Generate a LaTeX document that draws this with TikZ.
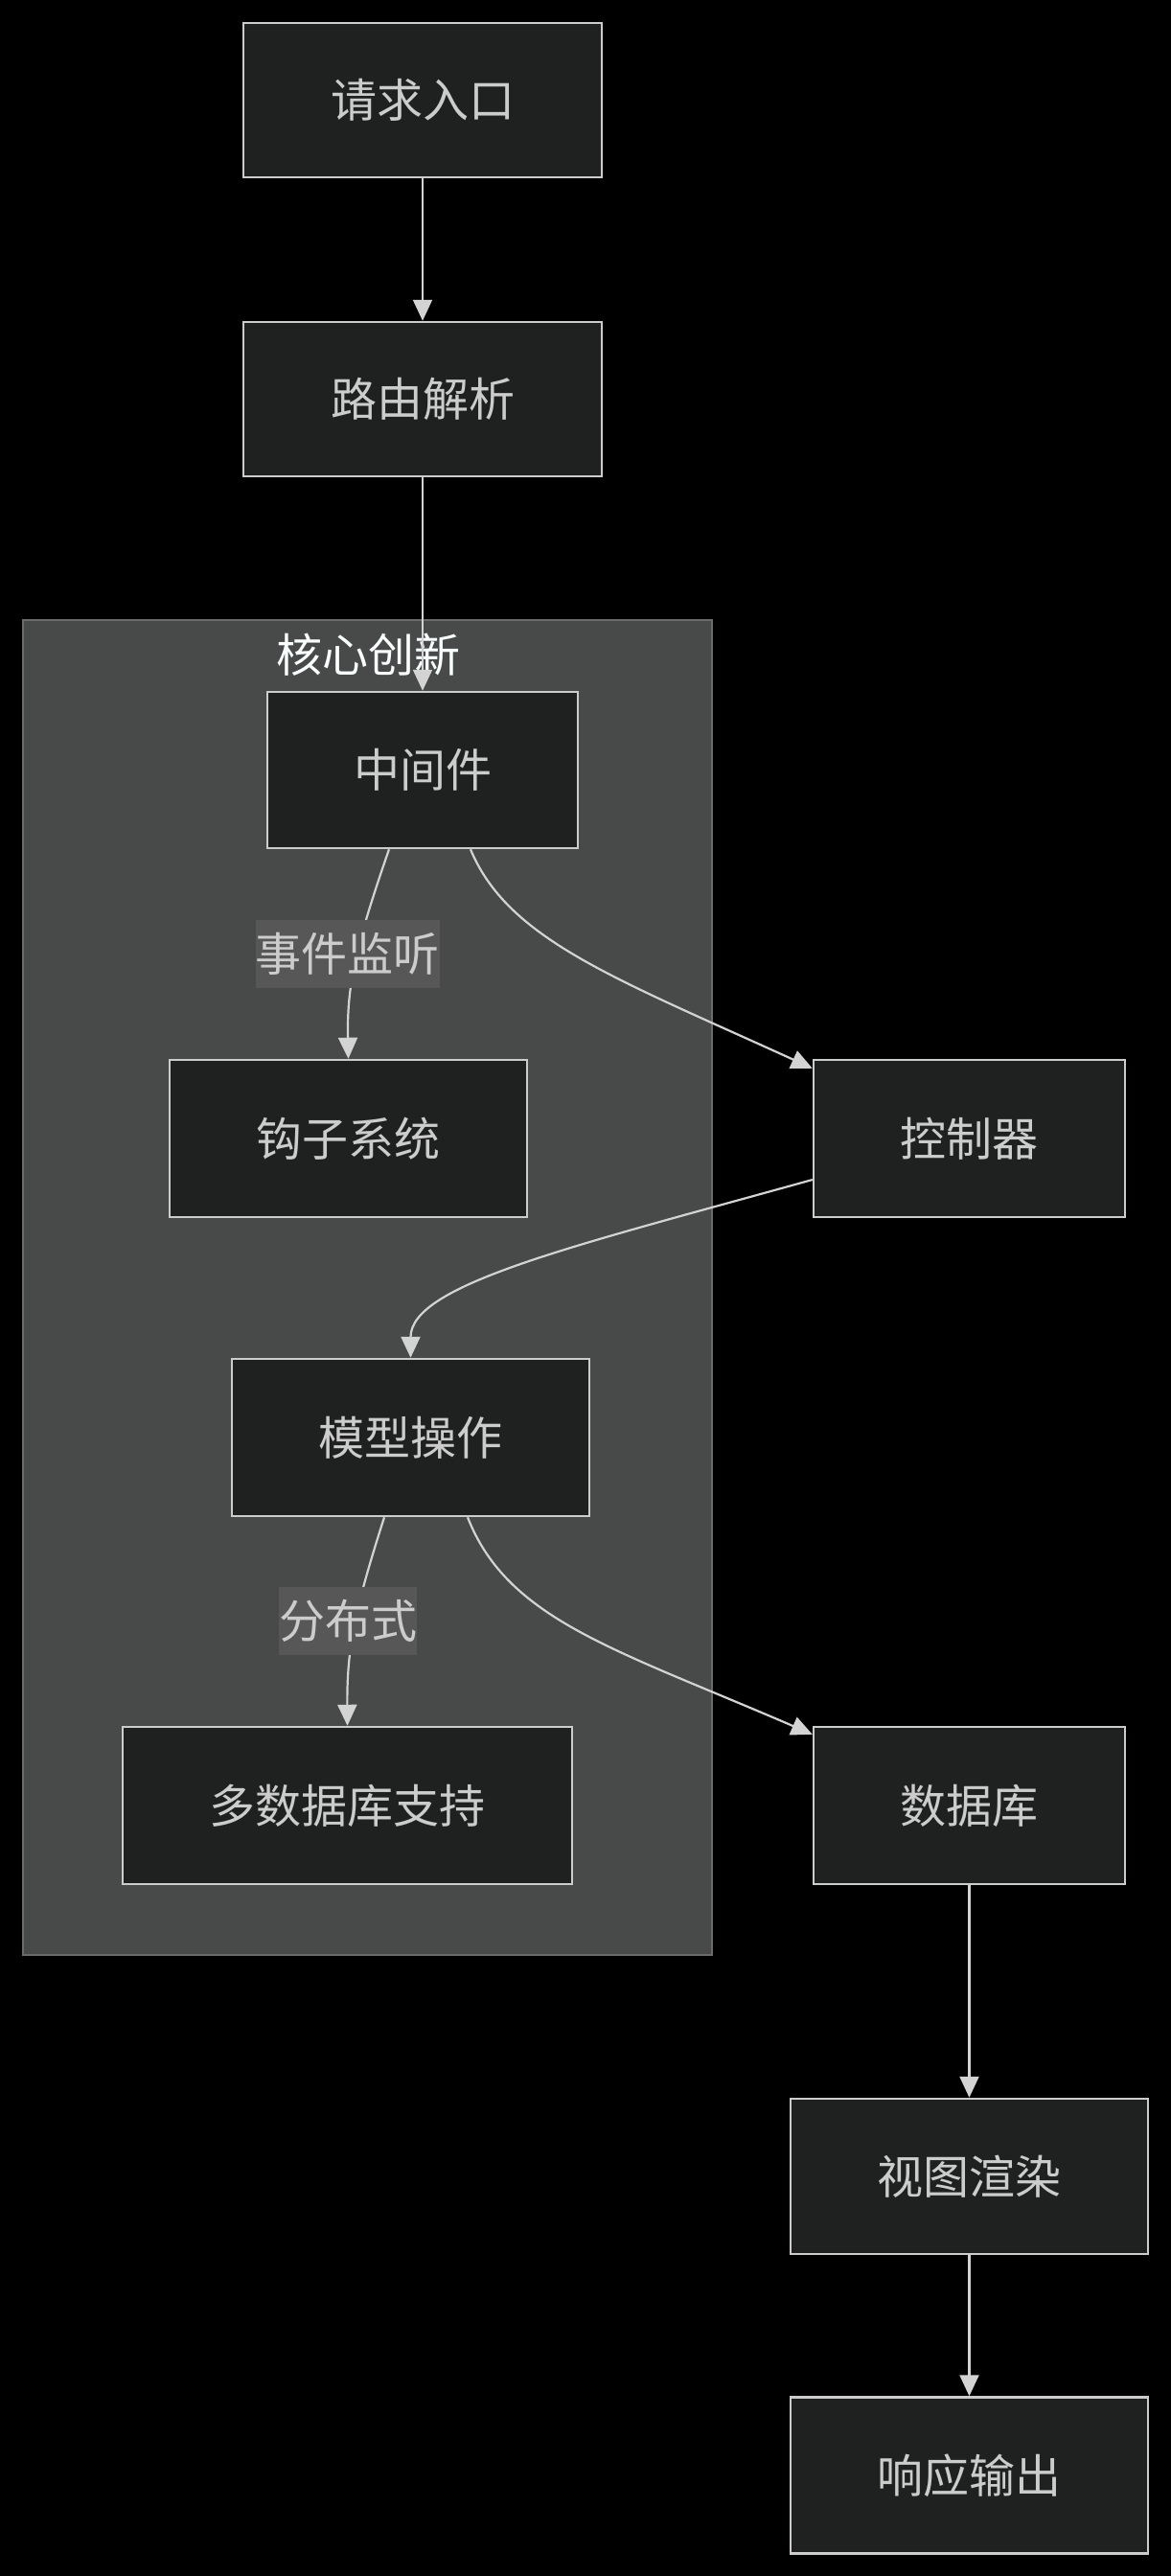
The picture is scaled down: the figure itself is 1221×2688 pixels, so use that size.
\documentclass[tikz,border=0pt]{standalone}
\usepackage{fontspec}
\setmainfont{Noto Sans CJK SC}
\usetikzlibrary{arrows.meta}
\definecolor{nodefill}{HTML}{1F2020}
\definecolor{nodeline}{HTML}{CCCCCC}
\definecolor{txtcol}{HTML}{CCCCCC}
\definecolor{clfill}{HTML}{484A4A}
\definecolor{clline}{HTML}{6B6B6B}
\definecolor{lblfill}{HTML}{575757}
\definecolor{edgecol}{HTML}{D3D3D3}
\definecolor{titlecol}{HTML}{F9FFFE}
\begin{document}
\begin{tikzpicture}[x=1pt,y=-1pt,
  box/.style={draw=nodeline, fill=nodefill, line width=2.5pt, text=txtcol,
    font=\fontsize{48}{58}\selectfont, inner sep=0pt},
  elabel/.style={fill=lblfill, text=txtcol, font=\fontsize{48}{58}\selectfont,
    inner sep=0pt, minimum height=71pt},
  flow/.style={draw=edgecol, line width=2.2pt, -{Triangle[length=22pt,width=20pt]}}]
\useasboundingbox (0,0) rectangle (1221,2688);
\fill[black] (-20,-20) rectangle (1241,2708);
% cluster
\node[draw=clline, fill=clfill, line width=2pt, minimum width=719pt,
  minimum height=1393pt, inner sep=0pt] (CL) at (383.5,1343.5) {};
\node[text=titlecol, font=\fontsize{48}{58}\selectfont, inner sep=0pt] (T) at (384,683) {核心创新};
% nodes
\node[box, minimum width=374pt, minimum height=161pt] (A) at (441,104.5) {请求入口};
\node[box, minimum width=374pt, minimum height=161pt] (B) at (441,416.5) {路由解析};
\node[box, minimum width=324pt, minimum height=163pt] (C) at (441,803.5) {中间件};
\node[box, minimum width=373pt, minimum height=164pt] (D) at (363.5,1188) {钩子系统};
\node[box, minimum width=325pt, minimum height=164pt] (E) at (1011.5,1188) {控制器};
\node[box, minimum width=373pt, minimum height=164pt] (F) at (428.5,1500) {模型操作};
\node[box, minimum width=469pt, minimum height=164pt] (G) at (362.5,1884) {多数据库支持};
\node[box, minimum width=325pt, minimum height=164pt] (H) at (1011.5,1884) {数据库};
\node[box, minimum width=373pt, minimum height=162pt] (I) at (1011.5,2271) {视图渲染};
\node[box, minimum width=373pt, minimum height=163pt] (J) at (1011.5,2583) {响应输出};
% edges
\draw[flow] (A) -- (B);
\draw[flow] (B) -- (C);
\draw[flow] ([xshift=-35pt]C.south) .. controls (370,990) and (362,1030) .. (D.north);
\draw[flow] ([xshift=50pt]C.south) .. controls (530,980) and (640,1020) .. ([yshift=-10pt]E.north west);
\draw[flow] ([yshift=-43pt]E.west) .. controls (600,1300) and (428.5,1340) .. (F.north);
\draw[flow] ([xshift=-27.5pt]F.south) .. controls (370,1680) and (362,1720) .. (G.north);
\draw[flow] ([xshift=59.5pt]F.south) .. controls (530,1690) and (640,1720) .. ([yshift=-9pt]H.north west);
\draw[flow] (H) -- (I);
\draw[flow] (I) -- (J);
% edge labels
\node[elabel, minimum width=191pt] (L1) at (362.5,995.5) {事件监听};
\node[elabel, minimum width=144pt] (L2) at (363,1691.5) {分布式};
\end{tikzpicture}
\end{document}
